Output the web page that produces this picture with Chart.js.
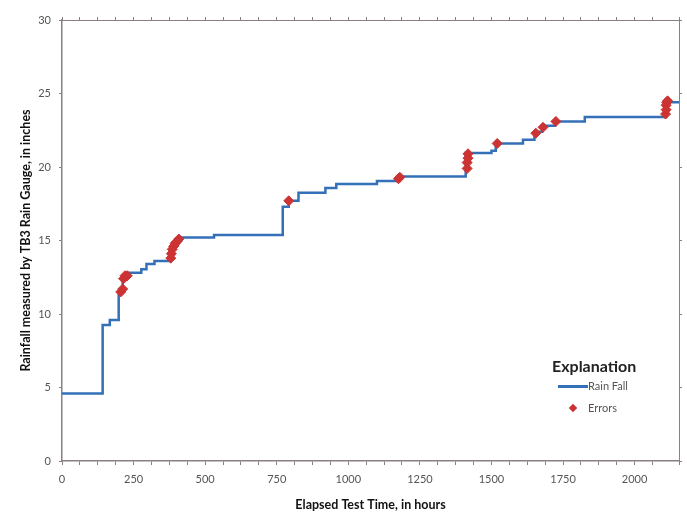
<!DOCTYPE html>
<html>
<head>
<meta charset="utf-8">
<script src="https://cdn.jsdelivr.net/npm/chart.js@4.4.0/dist/chart.umd.min.js"></script>
<style>
  body { margin: 0; background: #fff; }
  .wrap { position: relative; width: 687px; height: 512px; }
  .legend { position: absolute; left: 550px; top: 356px; font-family: Lato, "Open Sans", sans-serif; color: #555; }
  .legend .title { font-weight: bold; font-size: 16px; color: #222; margin-left: 2px; }
  .legend .row { position: relative; height: 22px; font-size: 11px; line-height: 22px; padding-left: 38px; }
  .legend .line { position: absolute; left: 8px; top: 10px; width: 30px; height: 3px; background: #3470b8; }
  .legend .diamond { position: absolute; left: 20px; top: 8px; width: 6px; height: 6px; background: #cc3333; transform: rotate(45deg); }
</style>
</head>
<body>
<div class="wrap">
  <canvas id="rainChart"></canvas>
  <div class="legend">
    <div class="title">Explanation</div>
    <div class="row"><span class="line"></span>Rain Fall</div>
    <div class="row"><span class="diamond"></span>Errors</div>
  </div>
</div>
<script>
// step changes of the cumulative gauge total (hours, inches)
let rainHours = [0, 142, 167, 198, 212, 226, 277, 295, 323, 378, 390, 405, 417, 531, 771, 792, 826, 920, 958, 1100, 1170, 1410, 1500, 1515, 1610, 1650, 1677, 1722, 1826, 2110, 2155];
let rainInches = [4.6, 9.25, 9.6, 11.5, 12.5, 12.8, 13.05, 13.4, 13.6, 14.2, 14.7, 15.0, 15.2, 15.37, 17.3, 17.7, 18.25, 18.57, 18.84, 19.05, 19.35, 20.95, 21.1, 21.6, 21.85, 22.4, 22.8, 23.1, 23.4, 24.4, 24.4];

// flagged readings
let errorHours = [205, 212, 215, 220, 228, 380, 382, 385, 390, 395, 400, 408, 792, 1175, 1180, 1415, 1415, 1418, 1418, 1520, 1655, 1680, 1725, 2108, 2110, 2110, 2112, 2115];
let errorInches = [11.5, 11.7, 12.4, 12.6, 12.6, 13.8, 14.1, 14.4, 14.6, 14.8, 14.9, 15.1, 17.7, 19.2, 19.3, 19.9, 20.3, 20.6, 20.9, 21.6, 22.3, 22.7, 23.1, 23.6, 23.9, 24.2, 24.4, 24.5];

let xMax = 2155;
let xLabelStep = 250;
let axisColor = '#8a8080';
let tickFont = { family: 'Lato, "Open Sans", sans-serif', size: 11 };
let titleFont = { family: 'Lato, "Open Sans", sans-serif', size: 12.5, weight: 'bold' };

let rainPoints = rainHours.map((h, i) => ({ x: h, y: rainInches[i] }));
let errorPoints = errorHours.map((h, i) => ({ x: h, y: errorInches[i] }));

let ctx = document.getElementById('rainChart');
let myChart = new Chart(ctx, {
    type: 'line',
    data: {
        datasets: [{
            label: 'Rain Fall',
            data: rainPoints,
            borderColor: '#3470b8',
            borderWidth: 2.5,
            stepped: true,
            pointRadius: 0,
            fill: false,
            order: 2
        }, {
            label: 'Errors',
            data: errorPoints,
            showLine: false,
            pointStyle: 'rectRot',
            pointRadius: 5,
            backgroundColor: '#cc3333',
            borderColor: '#cc3333',
            borderWidth: 1,
            order: 1
        }]
    },
    options: {
        responsive: true,
        maintainAspectRatio: false,
        animation: false,
        layout: { padding: 0 },
        plugins: {
            legend: { display: false },
            tooltip: { enabled: false }
        },
        scales: {
            x: {
                type: 'linear',
                position: 'bottom',
                min: 0,
                max: xMax,
                border: { color: axisColor, width: 1.5 },
                grid: { drawOnChartArea: false, color: axisColor, tickLength: 4 },
                ticks: {
                    stepSize: 62.5,
                    autoSkip: false,
                    maxRotation: 0,
                    padding: 8,
                    color: '#555',
                    font: tickFont,
                    callback: v => (v % xLabelStep === 0 ? v : '')
                },
                title: {
                    display: true,
                    text: 'Elapsed Test Time, in hours',
                    color: '#111',
                    font: titleFont,
                    padding: { top: 0, bottom: 0 }
                },
                afterFit: s => { s.height = 51; }
            },
            x2: {
                type: 'linear',
                position: 'top',
                min: 0,
                max: xMax,
                border: { color: axisColor, width: 1 },
                grid: { drawOnChartArea: false, color: axisColor, tickLength: 3 },
                ticks: { display: false, stepSize: 62.5, autoSkip: false },
                afterFit: s => { s.height = 20; }
            },
            y: {
                position: 'left',
                min: 0,
                max: 30,
                border: { color: axisColor, width: 1.5 },
                grid: { drawOnChartArea: false, color: axisColor, tickLength: 3 },
                ticks: { stepSize: 5, padding: 8, color: '#555', font: tickFont },
                title: {
                    display: true,
                    text: 'Rainfall measured by TB3 Rain Gauge, in inches',
                    color: '#111',
                    font: titleFont,
                    padding: { top: 18, bottom: 0 }
                },
                afterFit: s => { s.width = 62; }
            },
            y2: {
                position: 'right',
                min: 0,
                max: 30,
                border: { color: axisColor, width: 1 },
                grid: { drawOnChartArea: false, color: axisColor, tickLength: 3 },
                ticks: { display: false, stepSize: 5 },
                afterFit: s => { s.width = 4; }
            }
        }
    }
});
</script>
</body>
</html>
